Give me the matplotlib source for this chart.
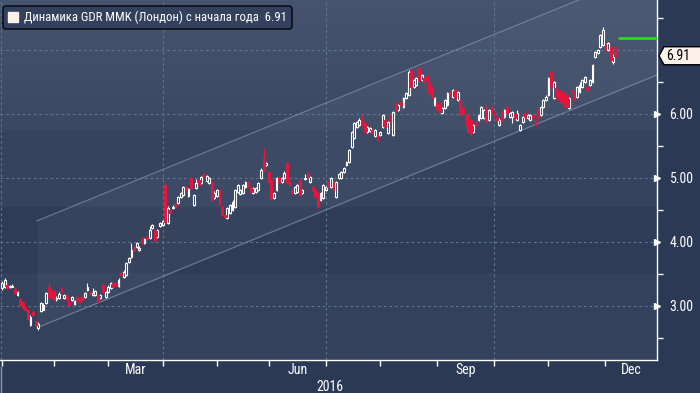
import numpy as np
import pandas as pd
import matplotlib
matplotlib.use("Agg")
import matplotlib.pyplot as plt
from matplotlib import font_manager as fm
from matplotlib.patches import Patch, Polygon
from matplotlib.colors import LinearSegmentedColormap
import matplotlib.transforms as mtransforms

# ---------------- data (GDR MMK, London, daily OHLC 2016, trading-day index) -------------
opens = [3.28,3.30,3.33,3.30,3.30,3.27,3.17,3.11,3.06,2.98,2.94,2.70,2.91,2.77,2.66,2.92,2.94,3.05,3.30,3.23,
         3.23,3.11,3.13,3.28,3.13,3.17,3.06,3.09,3.03,3.14,3.13,3.14,3.14,3.25,3.22,3.17,3.17,3.17,3.13,3.33,
         3.14,3.22,3.28,3.36,3.36,3.31,3.52,3.45,3.48,3.69,3.77,3.92,3.92,3.88,4.06,3.98,4.08,4.06,4.22,4.19,
         4.08,4.25,4.27,4.89,4.30,4.50,4.53,4.61,4.61,4.70,4.73,4.86,4.72,5.00,4.58,4.84,4.97,4.92,5.06,4.95,
         4.92,4.94,4.69,4.72,4.81,4.55,4.42,4.38,4.45,4.50,4.55,4.78,4.75,4.77,4.86,4.94,4.86,4.77,4.78,4.81,
         5.00,5.31,5.20,5.09,4.97,4.69,4.81,5.02,4.94,5.00,5.23,4.94,4.81,4.77,4.78,4.97,4.77,4.98,5.08,4.94,
         4.86,4.81,4.77,4.66,4.69,4.81,4.94,4.86,4.94,4.70,5.00,5.00,5.09,5.20,5.25,5.48,5.63,5.80,5.83,5.89,
         5.86,5.72,5.73,5.75,5.66,5.67,5.67,5.80,5.91,5.70,5.98,5.67,6.17,6.06,6.19,6.11,6.25,6.30,6.69,6.42,
         6.45,6.72,6.53,6.56,6.59,6.50,6.41,6.14,6.17,6.17,6.02,6.09,6.14,6.34,6.27,6.38,6.22,6.22,6.09,5.98,
         5.98,5.91,5.72,5.88,5.91,5.94,5.94,6.11,5.91,6.11,6.02,5.95,5.83,6.03,5.95,6.11,5.95,5.95,6.02,5.91,
         5.75,5.88,6.02,5.94,5.91,5.98,5.91,6.06,5.98,6.11,6.22,6.30,6.66,6.25,6.41,6.38,6.34,6.34,6.30,6.09,
         6.38,6.33,6.27,6.34,6.42,6.50,6.42,6.45,6.50,6.89,6.95,7.05,7.08,7.09,7.00,7.05,6.81,7.05]
closes = [3.36,3.41,3.28,3.31,3.32,3.20,3.22,3.02,2.97,2.94,2.80,2.83,2.86,2.70,2.72,3.05,3.02,3.20,3.14,3.13,
          3.11,3.13,3.19,3.22,3.17,3.09,3.02,3.14,3.08,3.09,3.06,3.09,3.20,3.30,3.19,3.20,3.23,3.06,3.17,3.22,
          3.22,3.30,3.36,3.30,3.33,3.41,3.48,3.53,3.67,3.75,3.88,3.88,3.98,3.91,3.98,4.05,4.05,4.19,4.27,4.03,
          4.19,4.30,4.33,4.31,4.53,4.45,4.55,4.55,4.70,4.77,4.86,4.81,4.83,4.84,4.73,4.92,4.89,5.02,5.02,5.03,
          5.00,4.66,4.77,4.81,4.58,4.42,4.39,4.53,4.58,4.63,4.81,4.89,4.81,4.89,4.94,4.88,4.78,4.84,4.84,4.92,
          5.13,5.13,5.23,4.94,4.69,4.77,5.00,4.94,5.00,5.08,4.92,4.89,4.77,4.86,4.89,4.73,4.81,5.00,5.02,5.02,
          4.81,4.70,4.55,4.77,4.89,4.86,4.86,5.00,4.81,4.94,5.06,5.09,5.16,5.25,5.44,5.72,5.86,5.88,5.91,5.83,
          5.72,5.80,5.78,5.70,5.75,5.59,5.72,5.98,5.80,5.88,5.88,6.03,6.06,6.14,6.14,6.25,6.33,6.66,6.42,6.53,
          6.56,6.53,6.61,6.50,6.53,6.33,6.25,6.25,6.06,6.03,6.09,6.22,6.33,6.30,6.38,6.25,6.34,5.98,6.02,5.83,
          5.72,5.70,5.83,5.83,5.98,6.11,6.06,5.88,6.06,6.03,5.97,5.91,5.91,5.91,6.06,6.02,6.02,6.03,5.94,6.02,
          5.83,5.95,5.95,5.98,5.98,5.94,5.83,5.94,6.11,6.22,6.27,6.56,6.42,6.50,6.27,6.22,6.19,6.14,6.11,6.25,
          6.34,6.22,6.42,6.45,6.53,6.58,6.38,6.53,6.77,6.97,7.00,7.23,7.31,7.00,7.11,6.84,6.89,6.91]
highs = [3.39,3.44,3.36,3.33,3.34,3.29,3.23,3.13,3.08,3.00,2.96,2.86,2.95,2.78,2.75,3.06,3.05,3.22,3.38,3.30,
         3.25,3.16,3.22,3.30,3.19,3.19,3.08,3.16,3.10,3.16,3.14,3.16,3.22,3.36,3.23,3.28,3.25,3.19,3.19,3.34,
         3.23,3.33,3.38,3.38,3.38,3.44,3.55,3.56,3.69,3.77,3.98,3.94,4.00,3.94,4.08,4.06,4.09,4.25,4.28,4.20,
         4.20,4.31,4.34,4.92,4.56,4.52,4.58,4.63,4.72,4.78,4.88,4.88,4.84,5.02,4.75,4.98,4.98,5.03,5.08,5.05,
         5.02,4.95,4.80,4.83,4.83,4.56,4.44,4.55,4.59,4.66,4.83,4.91,4.83,4.91,4.95,4.95,4.88,4.86,4.86,4.94,
         5.16,5.47,5.25,5.11,4.98,4.78,5.02,5.03,5.02,5.11,5.25,4.95,4.83,4.88,4.91,4.98,4.83,5.06,5.09,5.03,
         4.88,4.83,4.78,4.78,4.91,4.88,4.95,5.02,4.95,4.95,5.08,5.11,5.17,5.27,5.45,5.73,5.88,5.89,5.94,5.98,
         5.88,5.81,5.80,5.77,5.77,5.69,5.73,6.00,5.92,5.89,6.00,6.05,6.19,6.16,6.20,6.27,6.34,6.69,6.70,6.55,
         6.58,6.77,6.63,6.58,6.61,6.52,6.42,6.27,6.19,6.19,6.11,6.23,6.34,6.36,6.39,6.39,6.36,6.23,6.11,6.00,
         6.00,5.92,5.84,5.89,6.00,6.13,6.08,6.14,6.08,6.13,6.03,5.97,5.94,6.05,6.08,6.13,6.03,6.05,6.03,6.06,
         5.84,5.97,6.03,6.00,6.00,6.00,5.92,6.08,6.13,6.23,6.30,6.58,6.69,6.52,6.42,6.39,6.36,6.36,6.31,6.27,
         6.39,6.34,6.44,6.50,6.55,6.59,6.44,6.55,6.78,6.98,7.02,7.25,7.36,7.11,7.13,7.06,6.94,7.06]
lows = [3.25,3.28,3.25,3.28,3.29,3.19,3.16,3.00,2.95,2.92,2.78,2.69,2.84,2.68,2.63,2.90,2.93,3.03,3.12,3.11,
        3.09,3.08,3.11,3.20,3.11,3.08,3.00,3.08,3.02,3.08,3.05,3.08,3.13,3.23,3.17,3.16,3.16,3.05,3.11,3.20,
        3.13,3.20,3.27,3.28,3.31,3.30,3.47,3.44,3.47,3.67,3.75,3.86,3.91,3.86,3.97,3.97,4.03,4.05,4.20,4.00,
        4.06,4.23,4.25,4.30,4.28,4.44,4.52,4.53,4.59,4.69,4.72,4.80,4.70,4.83,4.56,4.83,4.88,4.91,5.00,4.94,
        4.91,4.64,4.67,4.70,4.56,4.41,4.36,4.36,4.44,4.48,4.53,4.77,4.73,4.75,4.84,4.86,4.77,4.75,4.77,4.80,
        4.98,5.11,5.19,4.92,4.67,4.67,4.80,4.92,4.92,4.98,4.91,4.88,4.75,4.75,4.77,4.72,4.75,4.97,5.00,4.92,
        4.80,4.69,4.53,4.64,4.67,4.80,4.84,4.84,4.80,4.69,4.98,4.98,5.08,5.19,5.23,5.47,5.61,5.78,5.81,5.81,
        5.70,5.70,5.72,5.69,5.64,5.58,5.66,5.78,5.78,5.69,5.86,5.66,6.05,6.05,6.13,6.09,6.23,6.28,6.41,6.41,
        6.44,6.52,6.52,6.48,6.52,6.31,6.23,6.13,6.05,6.02,6.00,6.08,6.13,6.28,6.25,6.23,6.20,5.97,6.00,5.81,
        5.70,5.66,5.70,5.81,5.89,5.92,5.92,5.86,5.89,6.02,5.95,5.89,5.81,5.89,5.94,5.98,5.94,5.86,5.92,5.89,
        5.73,5.86,5.94,5.92,5.89,5.92,5.81,5.92,5.97,6.09,6.20,6.28,6.41,6.23,6.25,6.20,6.17,6.11,6.03,6.08,
        6.33,6.20,6.25,6.33,6.41,6.48,6.36,6.44,6.48,6.88,6.94,7.03,7.06,6.98,6.98,6.83,6.78,6.89]

target_level = 7.19            # green horizontal marker at the right
price_ticks = [3.0, 4.0, 5.0, 6.0]
grid_levels = [3.0, 4.0, 5.0, 6.0, 7.0]
minor_levels = [2.5, 3.5, 4.5, 5.5, 6.5, 7.5]
quarter_months = ["Mar", "Jun", "Sep", "Dec"]
year_label = "2016"
legend_label = "Динамика GDR MMK (Лондон) с начала года"

# trend channel (start index, start values, slope per trading day)
chan_start = 13.5
chan_upper0 = 4.33
chan_lower0 = 2.66
chan_slope = 0.0165

# ---------------- trading calendar (LSE 2016) ----------------
holidays = pd.to_datetime(["2016-01-01", "2016-03-25", "2016-03-28", "2016-05-02",
                           "2016-05-30", "2016-08-29", "2016-12-26", "2016-12-27", "2017-01-02"])
days = pd.bdate_range("2016-01-01", "2017-01-31")
days = days[~days.isin(holidays)]
year_days = days[days.year == 2016]
n_year = len(year_days)
month_start_idx = [int(np.argmax(year_days.month == m)) for m in range(1, 13)]
bounds = month_start_idx + [n_year]
month_mid = {m: (bounds[m - 1] + bounds[m]) / 2.0 for m in range(1, 13)}

# ---------------- fonts ----------------
avail = {f.name for f in fm.fontManager.ttflist}
FONT = "DejaVu Sans"
for cand in ["DejaVu Sans Condensed", "Liberation Sans Narrow", "Roboto Condensed", "Open Sans Condensed"]:
    if cand in avail:
        FONT = cand
        break
narrow = FONT != "DejaVu Sans"
plt.rcParams["font.family"] = [FONT, "DejaVu Sans"]
FS_LEG = 9.2 if narrow else 8.3
FS_TICK = 10.0 if narrow else 9.2

# ---------------- figure ----------------
W, H = 700, 393
fig = plt.figure(figsize=(W / 100, H / 100), dpi=100)
fig.patch.set_facecolor("#2b3955")
ax = fig.add_axes([0, 33 / H, 657 / W, 360 / H])
ax.set_facecolor("#34415c")

n = min(len(opens), len(closes), len(highs), len(lows))
idx = np.arange(n)
o = np.array(opens[:n]); c = np.array(closes[:n]); hi = np.array(highs[:n]); lo = np.array(lows[:n])

xmin, xmax = -0.77, n_year - 0.1
ymin, ymax = 2.156, 7.781
ax.set_xlim(xmin, xmax)
ax.set_ylim(ymin, ymax)

# background bands
ax.axhspan(3.52, 4.55, color="#2f3c57", zorder=0, lw=0)
ax.axhspan(4.55, 5.75, color="#36435f", zorder=0, lw=0)
grad = np.linspace(0, 1, 100).reshape(-1, 1)
cmap = LinearSegmentedColormap.from_list("bg", ["#3a4863", "#46546f"])
ax.imshow(grad, extent=(xmin, xmax, 5.75, ymax), origin="lower", aspect="auto", cmap=cmap, zorder=0)

# channel
cx = np.array([chan_start, xmax + 5])
up = chan_upper0 + chan_slope * (cx - chan_start)
dn = chan_lower0 + chan_slope * (cx - chan_start)
ax.fill_between(cx, dn, up, color="white", alpha=0.04, lw=0, zorder=1)
ax.plot(cx, up, color="#8d9ab2", lw=0.9, alpha=0.6, zorder=2)
ax.plot(cx, dn, color="#8d9ab2", lw=0.9, alpha=0.6, zorder=2)

# grid
for g in grid_levels:
    ax.axhline(g, color="#5c7593", lw=0.8, ls=(0, (2.5, 2.5)), zorder=1)
for q in [month_start_idx[0], month_start_idx[3], month_start_idx[6], month_start_idx[9]]:
    ax.axvline(q - 0.4 if q == 0 else q, color="#5c7593", lw=0.8, ls=(0, (2.5, 2.5)), zorder=1)

# candles
upm = c >= o
red = "#e3173e"
ax.vlines(idx[upm], lo[upm], hi[upm], color="white", lw=0.8, zorder=3)
ax.vlines(idx[~upm], lo[~upm], hi[~upm], color=red, lw=0.8, zorder=3)
body = np.maximum(np.abs(c - o), 0.012)
ax.bar(idx[upm], body[upm], bottom=np.minimum(o, c)[upm], width=0.72,
       facecolor="#34415c", edgecolor="white", lw=0.8, zorder=4)
ax.bar(idx[~upm], body[~upm], bottom=np.minimum(o, c)[~upm], width=0.72,
       facecolor=red, edgecolor=red, lw=0.8, zorder=4)

# green level line
ax.hlines(target_level, n - 0.3, xmax, color="#22e01a", lw=2, zorder=5)

# spines
for s in ["left", "top"]:
    ax.spines[s].set_visible(False)
for s in ["right", "bottom"]:
    ax.spines[s].set_color("white")
    ax.spines[s].set_linewidth(1.0)

# y axis (right)
ax.yaxis.set_ticks_position("right")
ax.set_yticks(price_ticks)
ax.set_yticklabels([f"{v:.2f}" for v in price_ticks])
ax.set_yticks(minor_levels, minor=True)
ax.tick_params(axis="y", which="major", length=0, pad=9, labelsize=FS_TICK, labelcolor="white")
ax.tick_params(axis="y", which="minor", length=4, width=1, color="white", direction="out")
ax.plot([1.0] * len(price_ticks), price_ticks, transform=ax.get_yaxis_transform(), ls="",
        marker=">", ms=5, color="white", clip_on=False, zorder=6)

# x axis
ax.set_xticks(month_start_idx)
ax.set_xticklabels([])
qm = [3, 6, 9, 12]
ax.set_xticks([month_mid[m] for m in qm], minor=True)
ax.set_xticklabels(quarter_months, minor=True)
ax.tick_params(axis="x", which="major", length=4, width=1, color="white", direction="out")
ax.tick_params(axis="x", which="minor", length=0, pad=2, labelsize=FS_TICK, labelcolor="white")
ax.text((0 + n_year) / 2.0, -0.075, year_label, transform=ax.get_xaxis_transform(),
        ha="center", va="center", color="white", fontsize=FS_TICK)
ax.plot([-0.4, -0.4], [-0.02, -0.1], transform=ax.get_xaxis_transform(), color="#8899ad",
        lw=1, clip_on=False)

# legend
leg = ax.legend(handles=[Patch(facecolor="#fdf1ea", edgecolor="#fdf1ea")],
                labels=[f"{legend_label}  {c[-1]:.2f}"], loc="upper left",
                bbox_to_anchor=(0.005, 0.982), frameon=True, fancybox=True, framealpha=1,
                facecolor="#33415d", edgecolor="#0b0f18", handlelength=0.8, handleheight=0.8,
                handletextpad=0.5, borderpad=0.35, borderaxespad=0,
                prop={"family": [FONT, "DejaVu Sans"], "size": FS_LEG})
for t in leg.get_texts():
    t.set_color("white")
leg.get_frame().set_linewidth(1.2)

# last price label with pointer
fig.canvas.draw()
ylast = ax.transData.transform((0, c[-1]))[1]
xr = ax.transAxes.transform((1, 0))[0]
pts = [(xr + 2, ylast), (xr + 7, ylast + 9), (W + 2, ylast + 9), (W + 2, ylast - 9), (xr + 7, ylast - 9)]
poly = Polygon(pts, closed=True, facecolor="#fdf1ea", edgecolor="black", lw=1,
               transform=mtransforms.IdentityTransform(), zorder=10)
fig.patches.append(poly)
fig.text(xr + 9, ylast, f"{c[-1]:.2f}", transform=mtransforms.IdentityTransform(),
         ha="left", va="center", color="black", fontsize=FS_TICK, zorder=11)

fig.savefig("out.png", dpi=100, facecolor=fig.get_facecolor())
